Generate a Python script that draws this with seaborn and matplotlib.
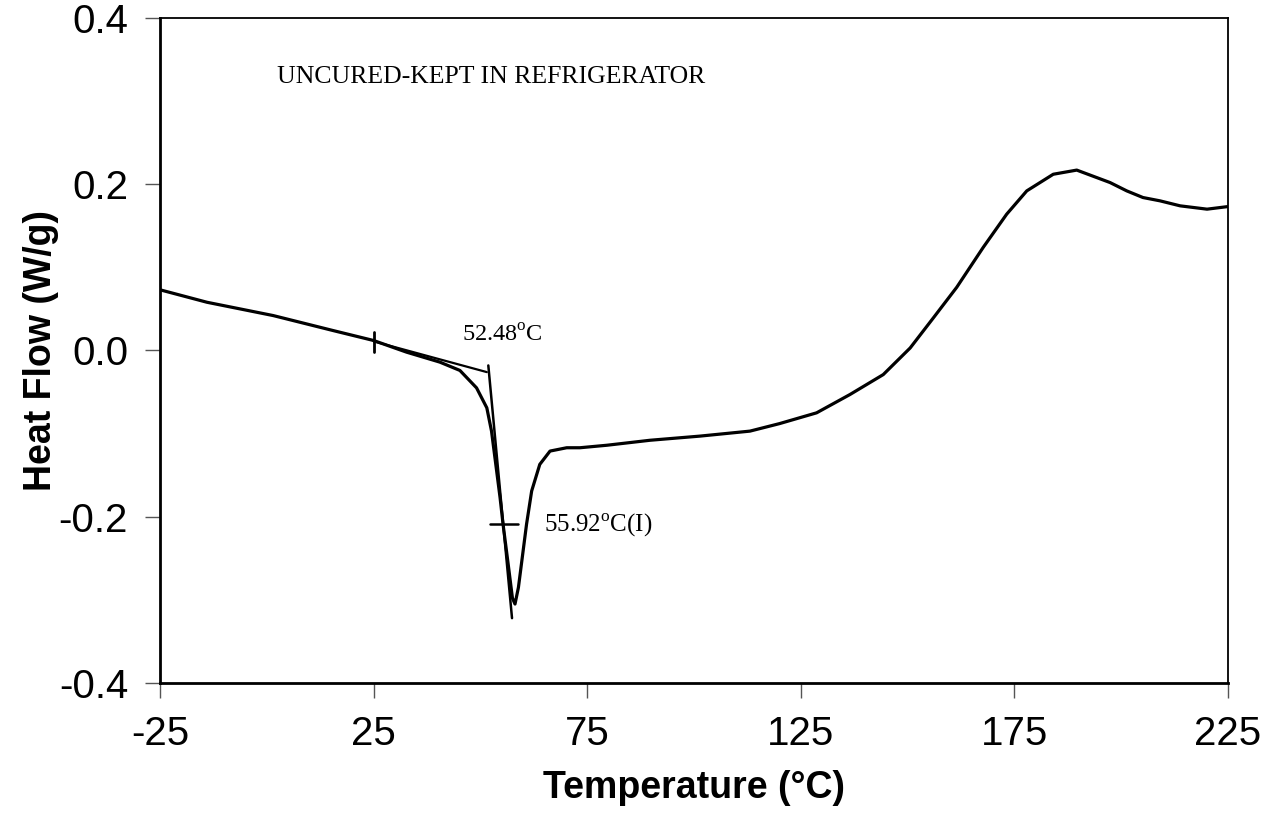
import matplotlib
matplotlib.use("Agg")
import matplotlib.pyplot as plt
import seaborn as sns
import pandas as pd

# DSC trace
temperature = [-25, -14, 1.5, 15.5, 25, 32.7, 40.5, 45.2, 49.1, 51.5, 52.6, 54.6, 55.3,
               56.5, 57.5, 58.1, 58.9, 59.6, 60.8, 62.0, 63.9, 66.3, 70.2, 73.3, 79.6,
               89.7, 101.4, 113.1, 120.0, 128.7, 136.5, 144.3, 150.6, 156.0, 161.5,
               167.7, 173.2, 177.9, 184.1, 189.6, 197.4, 201.3, 205.1, 209.1, 213.8,
               220.1, 224.8]
heat_flow = [0.073, 0.058, 0.042, 0.024, 0.012, -0.002, -0.014, -0.024, -0.045, -0.069,
             -0.097, -0.177, -0.209, -0.257, -0.298, -0.305, -0.285, -0.257, -0.209,
             -0.169, -0.137, -0.121, -0.117, -0.117, -0.114, -0.108, -0.103, -0.097,
             -0.088, -0.075, -0.053, -0.029, 0.003, 0.039, 0.076, 0.124, 0.164, 0.192,
             0.212, 0.217, 0.202, 0.192, 0.184, 0.180, 0.174, 0.170, 0.173]

# onset construction lines
baseline_t = [25, 51.5]
baseline_h = [0.011, -0.026]
tangent_t = [51.85, 57.4]
tangent_h = [-0.018, -0.322]
onset_tick_t = [25, 25]
onset_tick_h = [0.022, -0.002]
infl_tick_t = [52.2, 58.9]
infl_tick_h = [-0.209, -0.209]

xticks = [-25, 25, 75, 125, 175, 225]
yticks = [-0.4, -0.2, 0.0, 0.2, 0.4]
ytick_labels = ["-0.4", "-0.2", "0.0", "0.2", "0.4"]

sns.set_style("ticks")
plt.rcParams["font.family"] = ["Liberation Sans", "DejaVu Sans"]
plt.rcParams["mathtext.fontset"] = "custom"
plt.rcParams["mathtext.rm"] = "Liberation Serif"
plt.rcParams["axes.unicode_minus"] = False
plt.rcParams["text.color"] = "black"
plt.rcParams["axes.labelcolor"] = "black"
plt.rcParams["xtick.labelcolor"] = "black"
plt.rcParams["ytick.labelcolor"] = "black"

fig, ax = plt.subplots(figsize=(12.67, 8.13), dpi=100)
fig.subplots_adjust(left=0.1263, right=0.9692, top=0.9779, bottom=0.1599)

df = pd.DataFrame({"T": temperature, "H": heat_flow})
sns.lineplot(data=df, x="T", y="H", ax=ax, color="black", linewidth=2.3,
             sort=False, estimator=None)
for xs, ys, lw in [(baseline_t, baseline_h, 1.6), (tangent_t, tangent_h, 1.8),
                   (onset_tick_t, onset_tick_h, 2.0), (infl_tick_t, infl_tick_h, 1.8)]:
    sns.lineplot(x=xs, y=ys, ax=ax, color="black", linewidth=lw,
                 sort=False, estimator=None)

serif = ["Liberation Serif", "DejaVu Serif"]
ax.text(2.5, 0.329, "UNCURED-KEPT IN REFRIGERATOR", family=serif, fontsize=18.5,
        va="center", ha="left")
ax.text(45.6, 0.018, r"52.48$^{\mathrm{o}}$C", family=serif, fontsize=17.5,
        va="center", ha="left")
ax.text(65.0, -0.21, r"55.92$^{\mathrm{o}}$C(I)", family=serif, fontsize=18,
        va="center", ha="left")

ax.set_xlim(-25, 225)
ax.set_ylim(-0.4, 0.4)
ax.set_xticks(xticks)
ax.set_yticks(yticks)
ax.set_yticklabels(ytick_labels)
ax.tick_params(axis="both", labelsize=29, length=11, width=1, color="#555555",
               direction="out")
ax.tick_params(axis="x", pad=12)
ax.tick_params(axis="y", pad=12)

ax.set_xlabel("Temperature (°C)", fontsize=27, fontweight="bold", labelpad=12)
ax.set_ylabel("Heat Flow (W/g)", fontsize=27, fontweight="bold", labelpad=0)

for side in ["left", "bottom"]:
    ax.spines[side].set_linewidth(2)
for side in ["top", "right"]:
    ax.spines[side].set_visible(True)
    ax.spines[side].set_linewidth(1.3)
for s in ax.spines.values():
    s.set_color("black")

fig.savefig("out.png", dpi=100)
